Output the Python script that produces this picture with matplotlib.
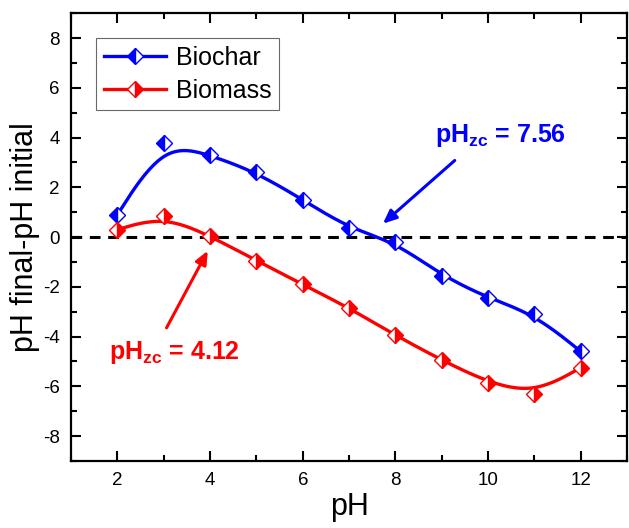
import numpy as np
import matplotlib
matplotlib.use("Agg")
import matplotlib.pyplot as plt
from matplotlib.ticker import MultipleLocator

plt.rcParams['font.family'] = ['Liberation Sans', 'DejaVu Sans']
plt.rcParams['mathtext.fontset'] = 'custom'
plt.rcParams['mathtext.rm'] = 'Liberation Sans'
plt.rcParams['mathtext.bf'] = 'Liberation Sans:bold'
plt.rcParams['axes.unicode_minus'] = False

# data
ph_initial = [2, 3, 4, 5, 6, 7, 8, 9, 10, 11, 12]
biochar = [0.9, 3.8, 3.3, 2.6, 1.5, 0.35, -0.2, -1.55, -2.45, -3.1, -4.6]
biomass = [0.3, 0.85, 0.05, -0.95, -1.9, -2.85, -3.95, -4.95, -5.85, -6.3, -5.25]
pzc_biochar = 7.56
pzc_biomass = 4.12


def bspline(x, y, n=40):
    # clamped uniform cubic B-spline using the points as control points
    p = np.column_stack([x, y]).astype(float)
    p = np.vstack([p[0], p[0], p, p[-1], p[-1]])
    t = np.linspace(0, 1, n)
    b = np.array([(1 - t) ** 3,
                  3 * t ** 3 - 6 * t ** 2 + 4,
                  -3 * t ** 3 + 3 * t ** 2 + 3 * t + 1,
                  t ** 3]) / 6.0
    segs = [b.T @ p[i:i + 4] for i in range(len(p) - 3)]
    out = np.vstack(segs)
    return out[:, 0], out[:, 1]


fig = plt.figure(figsize=(6.29, 5.28), dpi=100)
ax = fig.add_axes([0.113, 0.127, 0.884, 0.848])

ax.axhline(0, color='black', lw=2.2, ls=(0, (3.5, 2.5)), zorder=1)

for vals, col, fs, name in [(biochar, 'blue', 'left', 'Biochar'),
                            (biomass, 'red', 'right', 'Biomass')]:
    sx, sy = bspline(ph_initial, vals)
    ax.plot(sx, sy, color=col, lw=2.4, zorder=2)
    ax.plot(ph_initial, vals, ls='none', marker='D', ms=8.5, color=col,
            fillstyle=fs, markerfacecoloralt='white', mec=col, mew=1.0, zorder=3)
    # legend proxy
    ax.plot([], [], color=col, lw=2.4, marker='D', ms=8.5, fillstyle=fs,
            markerfacecoloralt='white', mec=col, mew=1.0, label=name)

ax.annotate('', xy=(7.73, 0.54), xytext=(9.28, 3.08),
            arrowprops=dict(arrowstyle='-|>,head_length=0.8,head_width=0.35',
                            color='blue', lw=2.2, shrinkA=0, shrinkB=0))
ax.text(10.27, 4.1, r'pH$_{\mathbf{zc}}$ = %.2f' % pzc_biochar, color='blue',
        fontsize=18, fontweight='bold', ha='center', va='center')

ax.annotate('', xy=(3.95, -0.55), xytext=(3.06, -3.65),
            arrowprops=dict(arrowstyle='-|>,head_length=0.8,head_width=0.35',
                            color='red', lw=2.2, shrinkA=0, shrinkB=0))
ax.text(3.24, -4.66, r'pH$_{\mathbf{zc}}$ = %.2f' % pzc_biomass, color='red',
        fontsize=18, fontweight='bold', ha='center', va='center')

ax.set_xlim(1, 13)
ax.set_ylim(-9, 9)
ax.xaxis.set_major_locator(MultipleLocator(2))
ax.xaxis.set_minor_locator(MultipleLocator(1))
ax.yaxis.set_major_locator(MultipleLocator(2))
ax.yaxis.set_minor_locator(MultipleLocator(1))
ax.tick_params(which='both', direction='in', top=True, right=True,
               labelsize=13.5, width=1.5, pad=8)
ax.tick_params(which='major', length=7)
ax.tick_params(which='minor', length=4)
for s in ax.spines.values():
    s.set_linewidth(1.6)

ax.set_xlabel('pH', fontsize=22, labelpad=2)
ax.set_ylabel('pH final-pH initial', fontsize=22, labelpad=2)

leg = ax.legend(loc='upper left', bbox_to_anchor=(0.045, 0.944), borderaxespad=0,
                fontsize=18, fancybox=False, edgecolor='#444444', handlelength=2.5,
                labelspacing=0.35, borderpad=0.3, handletextpad=0.4)
leg.get_frame().set_linewidth(0.8)

fig.savefig('out.png', dpi=100)
